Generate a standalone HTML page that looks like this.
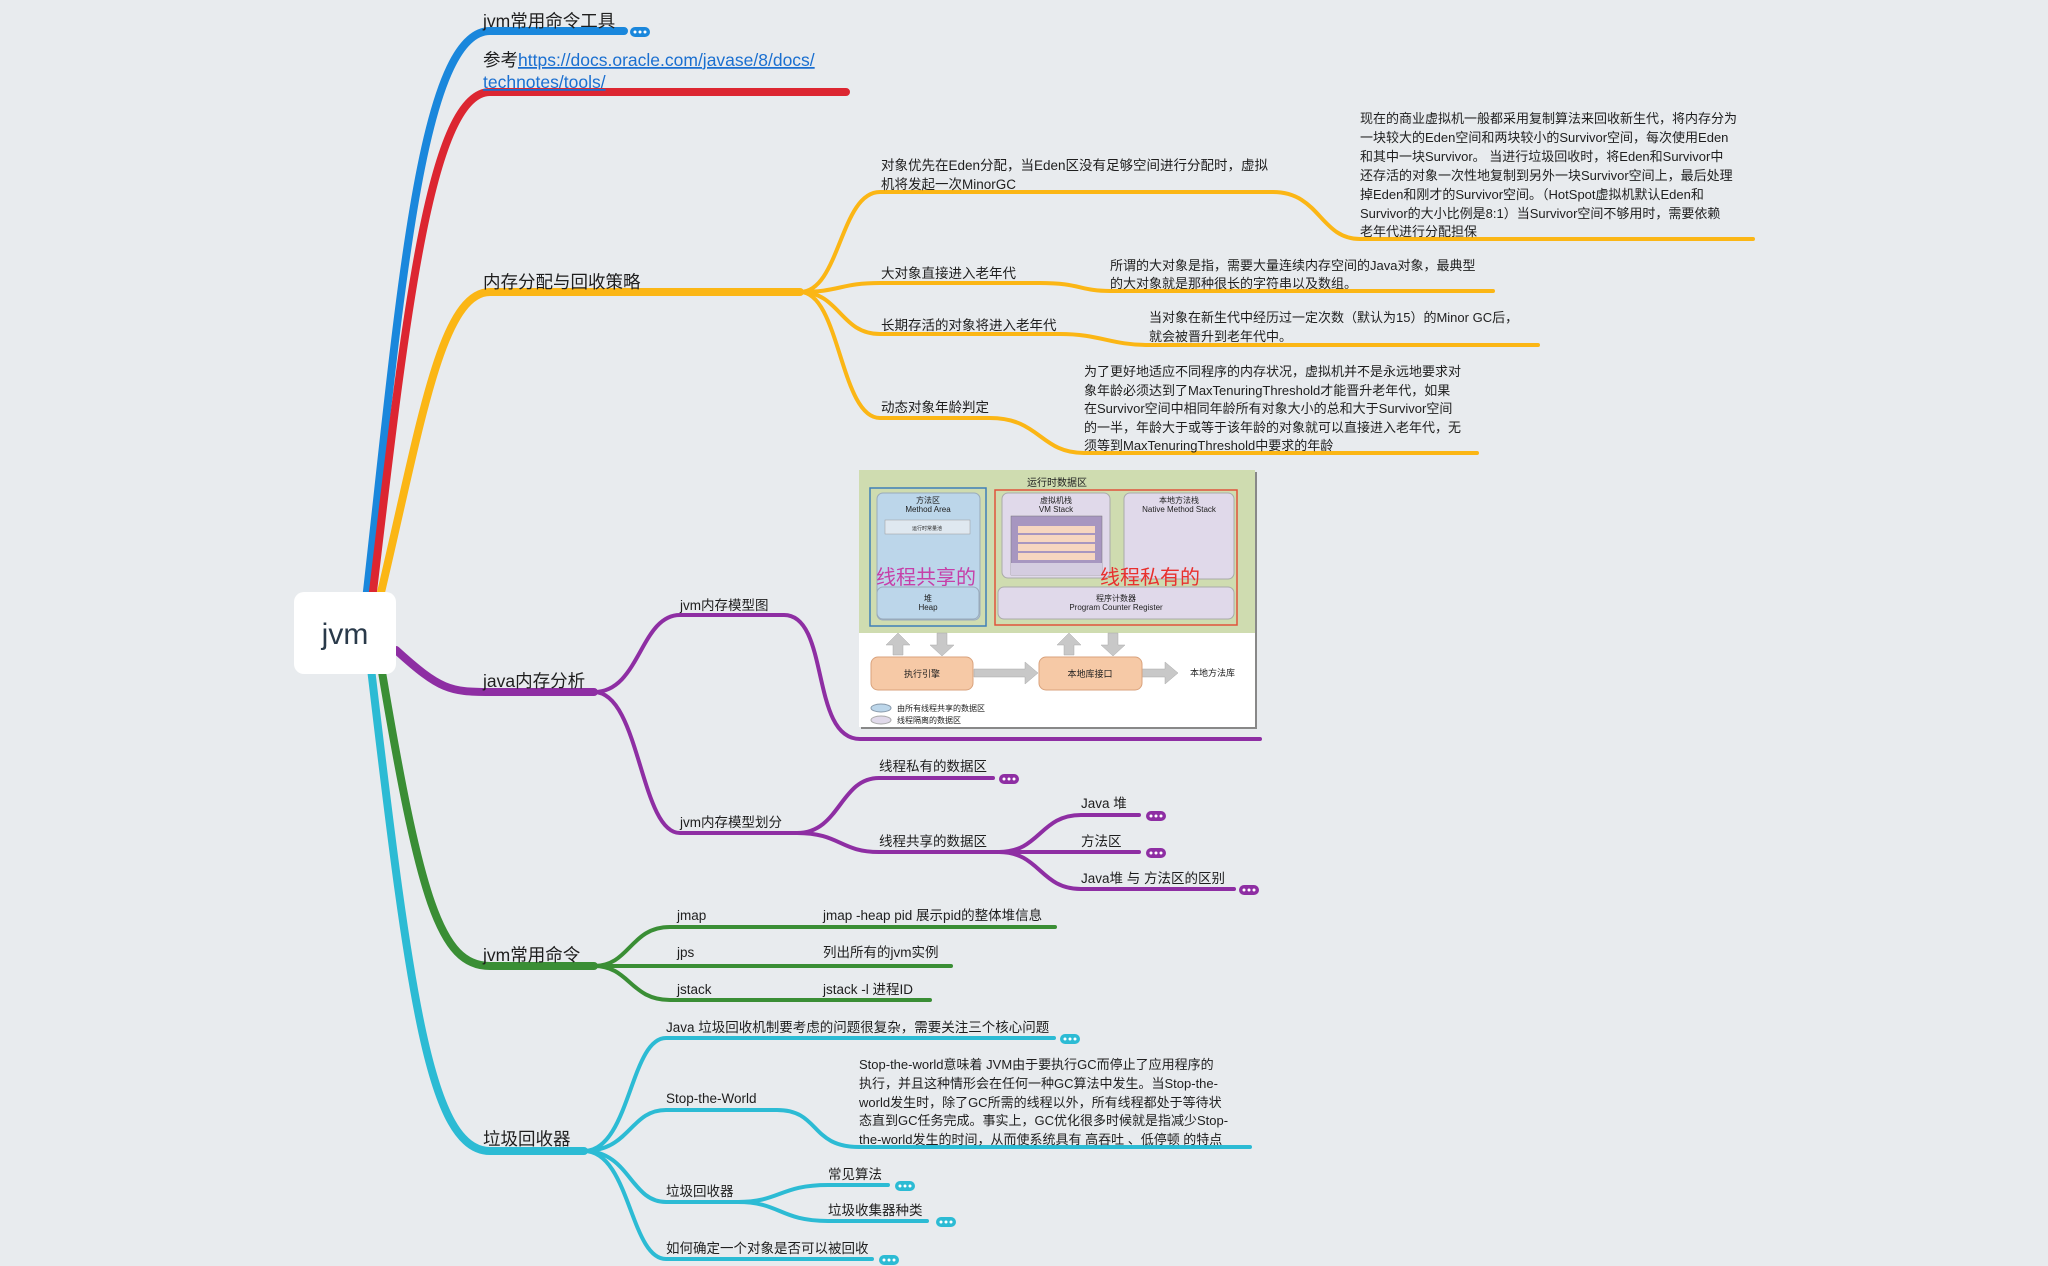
<!DOCTYPE html>
<html><head><meta charset="utf-8"><style>
html,body{margin:0;padding:0;background:#e8ebee;}
svg{display:block}
text{font-family:"Liberation Sans","Noto Sans CJK SC",sans-serif;fill:#1e1e1e}
.m{font-size:17.5px}
.s{font-size:13.5px}
.d{font-size:13px}
</style></head><body>
<svg width="2048" height="1266" viewBox="0 0 2048 1266" xmlns="http://www.w3.org/2000/svg">
<defs>
<g id="dots"><rect x="0" y="-5" width="20" height="10" rx="5"/><circle cx="5" cy="0" r="1.5" fill="#fff"/><circle cx="10" cy="0" r="1.5" fill="#fff"/><circle cx="15" cy="0" r="1.5" fill="#fff"/></g>
</defs>
<g fill="none" stroke-linecap="round">
<path d="M366,600 C400,300 420,31 490,31 L624,31" stroke="#1a87dc" stroke-width="8"/>
<path d="M372,600 C405,320 430,92 490,92 L846,92" stroke="#dc2631" stroke-width="8"/>
<path d="M378,605 C420,430 440,292 490,292 L800,292" stroke="#fbb615" stroke-width="8"/>
<g stroke="#fbb615" stroke-width="4">
<path d="M800,292 C840,292 840,192 880,192 L1273,192 C1320,192 1320,239 1360,239 L1753,239"/>
<path d="M800,292 C840,292 840,283 880,283 L1040,283 C1080,283 1080,291 1110,291 L1493,291"/>
<path d="M800,292 C840,292 840,334 880,334 L1060,334 C1100,334 1110,345 1149,345 L1538,345"/>
<path d="M800,292 C840,292 840,418 880,418 L990,418 C1040,418 1040,453 1084,453 L1477,453"/>
</g>
<path d="M396,650 C440,690 450,692 490,692 L594,692" stroke="#8e2ea3" stroke-width="8"/>
<g stroke="#8e2ea3" stroke-width="4">
<path d="M594,692 C640,692 640,615 680,615 L784,615 C830,615 810,739 860,739 L1260,739"/>
<path d="M594,692 C640,692 640,833 680,833 L797,833"/>
<path d="M797,833 C840,833 840,778 879,778 L993,778"/>
<path d="M797,833 C840,833 840,852 879,852 L999,852"/>
<path d="M999,852 C1040,852 1040,815 1081,815 L1139,815"/>
<path d="M999,852 L1139,852"/>
<path d="M999,852 C1040,852 1040,889 1081,889 L1234,889"/>
</g>
<path d="M380,660 C420,900 440,966 490,966 L594,966" stroke="#3a8e35" stroke-width="8"/>
<g stroke="#3a8e35" stroke-width="4">
<path d="M594,966 C630,966 630,927 670,927 L1055,927"/>
<path d="M594,966 L951,966"/>
<path d="M594,966 C630,966 630,1000 670,1000 L930,1000"/>
</g>
<path d="M370,660 C410,1000 430,1151 490,1151 L584,1151" stroke="#2cbbd4" stroke-width="8"/>
<g stroke="#2cbbd4" stroke-width="4">
<path d="M584,1151 C630,1151 630,1038 666,1038 L1054,1038"/>
<path d="M584,1151 C630,1151 630,1110 666,1110 L777,1110 C820,1110 810,1147 859,1147 L1250,1147"/>
<path d="M584,1151 C630,1151 630,1202 666,1202 L738,1202"/>
<path d="M738,1202 C780,1202 780,1185 828,1185 L888,1185"/>
<path d="M738,1202 C780,1202 780,1221 828,1221 L927,1221"/>
<path d="M584,1151 C630,1151 630,1259 666,1259 L872,1259"/>
</g>
</g>
<use href="#dots" x="630" y="32" fill="#1a87dc"/>
<use href="#dots" x="999" y="779" fill="#8e2ea3"/>
<use href="#dots" x="1146" y="816" fill="#8e2ea3"/>
<use href="#dots" x="1146" y="853" fill="#8e2ea3"/>
<use href="#dots" x="1239" y="890" fill="#8e2ea3"/>
<use href="#dots" x="1060" y="1039" fill="#2cbbd4"/>
<use href="#dots" x="895" y="1186" fill="#2cbbd4"/>
<use href="#dots" x="936" y="1222" fill="#2cbbd4"/>
<use href="#dots" x="879" y="1260" fill="#2cbbd4"/>

<rect x="294" y="592" width="102" height="82" rx="10" fill="#fff"/>
<text x="345" y="644" font-size="30" text-anchor="middle" style="fill:#2a3a4a">jvm</text>

<text class="m" x="483" y="27">jvm常用命令工具</text>
<text class="m" x="483" y="66">参考<tspan style="fill:#1a6fd0;text-decoration:underline">https://docs.oracle.com/javase/8/docs/</tspan></text>
<text class="m" x="483" y="88" style="fill:#1a6fd0;text-decoration:underline">technotes/tools/</text>
<text class="m" x="483" y="288">内存分配与回收策略</text>
<text class="m" x="483" y="687">java内存分析</text>
<text class="m" x="483" y="961">jvm常用命令</text>
<text class="m" x="483" y="1145">垃圾回收器</text>

<text class="s" x="881" y="170">对象优先在Eden分配，当Eden区没有足够空间进行分配时，虚拟</text>
<text class="s" x="881" y="189">机将发起一次MinorGC</text>
<text class="s" x="881" y="278">大对象直接进入老年代</text>
<text class="s" x="881" y="330">长期存活的对象将进入老年代</text>
<text class="s" x="881" y="412">动态对象年龄判定</text>
<text class="d" x="1360" y="123">现在的商业虚拟机一般都采用复制算法来回收新生代，将内存分为</text>
<text class="d" x="1360" y="142">一块较大的Eden空间和两块较小的Survivor空间，每次使用Eden</text>
<text class="d" x="1360" y="161">和其中一块Survivor。 当进行垃圾回收时，将Eden和Survivor中</text>
<text class="d" x="1360" y="180">还存活的对象一次性地复制到另外一块Survivor空间上，最后处理</text>
<text class="d" x="1360" y="199">掉Eden和刚才的Survivor空间。（HotSpot虚拟机默认Eden和</text>
<text class="d" x="1360" y="218">Survivor的大小比例是8:1）当Survivor空间不够用时，需要依赖</text>
<text class="d" x="1360" y="236">老年代进行分配担保</text>
<text class="d" x="1110" y="270">所谓的大对象是指，需要大量连续内存空间的Java对象，最典型</text>
<text class="d" x="1110" y="288">的大对象就是那种很长的字符串以及数组。</text>
<text class="d" x="1149" y="322">当对象在新生代中经历过一定次数（默认为15）的Minor GC后，</text>
<text class="d" x="1149" y="341">就会被晋升到老年代中。</text>
<text class="d" x="1084" y="376">为了更好地适应不同程序的内存状况，虚拟机并不是永远地要求对</text>
<text class="d" x="1084" y="395">象年龄必须达到了MaxTenuringThreshold才能晋升老年代，如果</text>
<text class="d" x="1084" y="413">在Survivor空间中相同年龄所有对象大小的总和大于Survivor空间</text>
<text class="d" x="1084" y="432">的一半，年龄大于或等于该年龄的对象就可以直接进入老年代，无</text>
<text class="d" x="1084" y="450">须等到MaxTenuringThreshold中要求的年龄</text>

<text class="s" x="680" y="610">jvm内存模型图</text>
<text class="s" x="680" y="827">jvm内存模型划分</text>
<text class="s" x="879" y="771">线程私有的数据区</text>
<text class="s" x="879" y="846">线程共享的数据区</text>
<text class="s" x="1081" y="808">Java 堆</text>
<text class="s" x="1081" y="846">方法区</text>
<text class="s" x="1081" y="883">Java堆 与 方法区的区别</text>

<text class="s" x="677" y="920">jmap</text>
<text class="s" x="823" y="920">jmap -heap pid 展示pid的整体堆信息</text>
<text class="s" x="677" y="957">jps</text>
<text class="s" x="823" y="957">列出所有的jvm实例</text>
<text class="s" x="677" y="994">jstack</text>
<text class="s" x="823" y="994">jstack -l 进程ID</text>

<text class="s" x="666" y="1032">Java 垃圾回收机制要考虑的问题很复杂，需要关注三个核心问题</text>
<text class="s" x="666" y="1103">Stop-the-World</text>
<text class="s" x="666" y="1196">垃圾回收器</text>
<text class="s" x="828" y="1179">常见算法</text>
<text class="s" x="828" y="1215">垃圾收集器种类</text>
<text class="s" x="666" y="1253">如何确定一个对象是否可以被回收</text>
<text class="d" x="859" y="1069">Stop-the-world意味着 JVM由于要执行GC而停止了应用程序的</text>
<text class="d" x="859" y="1088">执行，并且这种情形会在任何一种GC算法中发生。当Stop-the-</text>
<text class="d" x="859" y="1107">world发生时，除了GC所需的线程以外，所有线程都处于等待状</text>
<text class="d" x="859" y="1125">态直到GC任务完成。事实上，GC优化很多时候就是指减少Stop-</text>
<text class="d" x="859" y="1144">the-world发生的时间，从而使系统具有 高吞吐 、低停顿 的特点</text>

<g>
<rect x="861" y="472" width="396" height="257" fill="#888"/>
<rect x="859" y="470" width="396" height="257" fill="#fff"/>
<rect x="859" y="470" width="396" height="163" fill="#cfdcb0"/>
<text x="1057" y="486" font-size="10" text-anchor="middle">运行时数据区</text>
<rect x="870" y="488" width="116" height="138" fill="none" stroke="#3f7fb8" stroke-width="1.5"/>
<rect x="995" y="490" width="242" height="135" fill="none" stroke="#e0533a" stroke-width="1.5"/>
<rect x="877" y="493" width="103" height="127" rx="6" fill="#bcd6ea" stroke="#9ab"/>
<text x="928" y="503" font-size="8" text-anchor="middle">方法区</text>
<text x="928" y="512" font-size="8" text-anchor="middle">Method Area</text>
<rect x="885" y="520" width="85" height="14" fill="#dfe8f0" stroke="#999" stroke-width=".5"/>
<text x="927" y="530" font-size="5" text-anchor="middle">运行时常量池</text>
<rect x="877" y="587" width="102" height="32" rx="6" fill="#bcd6ea" stroke="#9ab"/>
<text x="928" y="601" font-size="8" text-anchor="middle">堆</text>
<text x="928" y="610" font-size="8" text-anchor="middle">Heap</text>
<rect x="1002" y="493" width="108" height="85" rx="6" fill="#e0d9ea" stroke="#aaa"/>
<text x="1056" y="503" font-size="8" text-anchor="middle">虚拟机栈</text>
<text x="1056" y="512" font-size="8" text-anchor="middle">VM Stack</text>
<rect x="1011" y="516" width="91" height="59" fill="#a796c0" stroke="#777" stroke-width=".5"/>
<rect x="1018" y="526" width="77" height="7" fill="#f6d6c0"/><rect x="1018" y="535" width="77" height="7" fill="#f6d6c0"/>
<rect x="1018" y="544" width="77" height="7" fill="#f6d6c0"/><rect x="1018" y="553" width="77" height="7" fill="#f6d6c0"/>
<rect x="1011" y="563" width="91" height="12" fill="#d4cce0"/>
<rect x="1124" y="493" width="110" height="86" rx="6" fill="#e0d9ea" stroke="#aaa"/>
<text x="1179" y="503" font-size="8" text-anchor="middle">本地方法栈</text>
<text x="1179" y="512" font-size="8" text-anchor="middle">Native Method Stack</text>
<rect x="998" y="587" width="236" height="32" rx="6" fill="#e0d9ea" stroke="#aaa"/>
<text x="1116" y="601" font-size="8" text-anchor="middle">程序计数器</text>
<text x="1116" y="610" font-size="8" text-anchor="middle">Program Counter Register</text>
<text x="876" y="584" font-size="20" style="fill:#c63fa8">线程共享的</text>
<text x="1100" y="584" font-size="20" style="fill:#e8302e">线程私有的</text>
<g fill="#c8c8c8" stroke="#aaa" stroke-width=".5">
<path d="M893,655 L893,645 L886,645 L898,633 L910,645 L903,645 L903,655Z"/>
<path d="M937,633 L937,645 L930,645 L942,656 L954,645 L947,645 L947,633Z"/>
<path d="M1064,655 L1064,645 L1057,645 L1069,633 L1081,645 L1074,645 L1074,655Z"/>
<path d="M1108,633 L1108,645 L1101,645 L1113,656 L1125,645 L1118,645 L1118,633Z"/>
<path d="M974,669 L1025,669 L1025,662 L1038,673 L1025,684 L1025,677 L974,677Z"/>
<path d="M1142,669 L1165,669 L1165,662 L1178,673 L1165,684 L1165,677 L1142,677Z"/>
</g>
<rect x="871" y="657" width="102" height="33" rx="7" fill="#f6c9a6" stroke="#d9a27c"/>
<text x="922" y="677" font-size="9" text-anchor="middle">执行引擎</text>
<rect x="1039" y="657" width="103" height="33" rx="7" fill="#f6c9a6" stroke="#d9a27c"/>
<text x="1090" y="677" font-size="9" text-anchor="middle">本地库接口</text>
<text x="1190" y="676" font-size="9">本地方法库</text>
<ellipse cx="881" cy="708" rx="10" ry="4" fill="#bcd6ea" stroke="#89a"/>
<text x="897" y="711" font-size="8">由所有线程共享的数据区</text>
<ellipse cx="881" cy="720" rx="10" ry="4" fill="#e0d9ea" stroke="#aaa"/>
<text x="897" y="723" font-size="8">线程隔离的数据区</text>
</g>
</svg>
</body></html>
